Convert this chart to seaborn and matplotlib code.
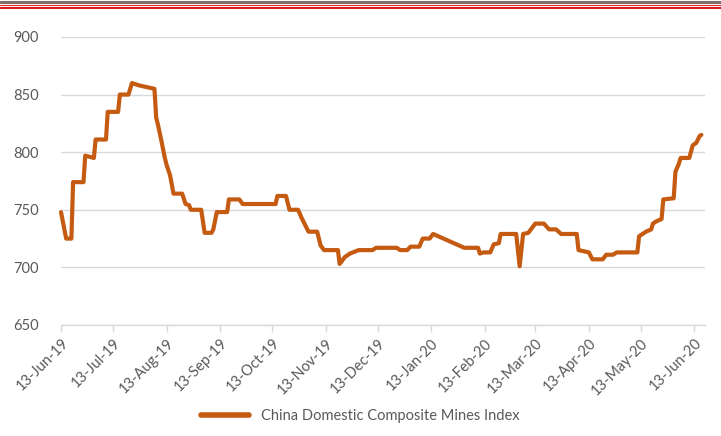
import pandas as pd
import seaborn as sns
import matplotlib.pyplot as plt
import matplotlib.dates as mdates
from matplotlib.lines import Line2D

# index values
dates = ['2019-06-13', '2019-06-16', '2019-06-19', '2019-06-20', '2019-06-26', '2019-06-27',
         '2019-07-02', '2019-07-03', '2019-07-09', '2019-07-10', '2019-07-16', '2019-07-17',
         '2019-07-22', '2019-07-24', '2019-07-28', '2019-08-03', '2019-08-06', '2019-08-07',
         '2019-08-08', '2019-08-10', '2019-08-12', '2019-08-13', '2019-08-15', '2019-08-17',
         '2019-08-22', '2019-08-24', '2019-08-26', '2019-08-27', '2019-09-02', '2019-09-04',
         '2019-09-08', '2019-09-09', '2019-09-11', '2019-09-17', '2019-09-18', '2019-09-24',
         '2019-09-26', '2019-10-15', '2019-10-16', '2019-10-21', '2019-10-23', '2019-10-28',
         '2019-10-30', '2019-10-31', '2019-11-03', '2019-11-08', '2019-11-10', '2019-11-12',
         '2019-11-20', '2019-11-21', '2019-11-24', '2019-11-27', '2019-12-02', '2019-12-10',
         '2019-12-12', '2019-12-24', '2019-12-26', '2019-12-30', '2020-01-01', '2020-01-06',
         '2020-01-08', '2020-01-12', '2020-01-14', '2020-02-01', '2020-02-09', '2020-02-10',
         '2020-02-12', '2020-02-16', '2020-02-18', '2020-02-21', '2020-02-22', '2020-03-02',
         '2020-03-04', '2020-03-06', '2020-03-09', '2020-03-13', '2020-03-18', '2020-03-21',
         '2020-03-25', '2020-03-28', '2020-04-06', '2020-04-07', '2020-04-13', '2020-04-15',
         '2020-04-21', '2020-04-23', '2020-04-27', '2020-04-29', '2020-05-11', '2020-05-12',
         '2020-05-16', '2020-05-19', '2020-05-20', '2020-05-22', '2020-05-25', '2020-05-26',
         '2020-06-01', '2020-06-02', '2020-06-04', '2020-06-05', '2020-06-10', '2020-06-12',
         '2020-06-14', '2020-06-16', '2020-06-17']
index_values = [748, 725, 725, 774, 774, 797,
                795, 811, 811, 835, 835, 850,
                850, 860, 858, 856, 855, 830,
                824, 810, 795, 789, 780, 764,
                764, 755, 754, 750, 750, 730,
                730, 733, 748, 748, 759, 759,
                755, 755, 762, 762, 750, 750,
                743, 740, 731, 731, 719, 715,
                715, 703, 709, 712, 715, 715,
                717, 717, 715, 715, 718, 718,
                725, 725, 729, 717, 717, 712,
                713, 713, 720, 721, 729, 729,
                701, 729, 730, 738, 738, 733,
                733, 729, 729, 715, 713, 707,
                707, 711, 711, 713, 713, 727,
                731, 733, 738, 740, 742, 759,
                760, 783, 790, 795, 795, 806,
                808, 814, 815]
series_name = 'China Domestic Composite Mines Index'
y_ticks = [650, 700, 750, 800, 850, 900]

df = pd.DataFrame({'Date': pd.to_datetime(dates), 'Index': index_values})

sns.set_style('white')
plt.rcParams['font.family'] = ['Lato', 'DejaVu Sans']

fig = plt.figure(figsize=(7.21, 4.36), dpi=100)
ax = fig.add_axes([0.0846, 0.2546, 0.893, 0.6606])

orange = '#C55A11'
sns.lineplot(x='Date', y='Index', data=df, ax=ax, color=orange, linewidth=3,
             solid_joinstyle='round', solid_capstyle='round', clip_on=False)

ax.set_ylim(650, 900)
ax.set_yticks(y_ticks)
ax.set_xlim(pd.Timestamp('2019-06-13'), pd.Timestamp('2020-06-19'))
tick_dates = pd.date_range('2019-06-01', '2020-06-13', freq='MS') + pd.Timedelta(days=12)
ax.set_xticks(tick_dates)
ax.xaxis.set_major_formatter(mdates.DateFormatter('%d-%b-%y'))
plt.setp(ax.get_xticklabels(), rotation=45, ha='right', rotation_mode='anchor')

ax.grid(axis='y', color='#d9d9d9', linewidth=1)
ax.set_axisbelow(True)
for s in ['top', 'right', 'left']:
    ax.spines[s].set_visible(False)
ax.spines['bottom'].set_color('#d9d9d9')
ax.spines['bottom'].set_linewidth(1)
ax.tick_params(axis='x', colors='#595959', labelsize=10.5, length=5, width=1,
               color='#d9d9d9', direction='out', bottom=True, pad=3)
ax.tick_params(axis='y', colors='#595959', labelsize=10.5, length=0, pad=16)
ax.set_xlabel('')
ax.set_ylabel('')

handle = Line2D([], [], color=orange, linewidth=4)
fig.legend([handle], [series_name], loc='lower center', bbox_to_anchor=(0.5, 0.0),
           frameon=False, fontsize=10.5, labelcolor='#595959', handlelength=3.3)

# decorative header rules
fig.add_artist(Line2D([0, 1], [0.995, 0.995], color='#7f6f6a', linewidth=2.2, transform=fig.transFigure))
fig.add_artist(Line2D([0, 1], [0.988, 0.988], color='#e03030', linewidth=0.8, transform=fig.transFigure))
fig.add_artist(Line2D([0, 1], [0.982, 0.982], color='#d81e1e', linewidth=1.5, transform=fig.transFigure))

fig.savefig('out.png', dpi=100)
